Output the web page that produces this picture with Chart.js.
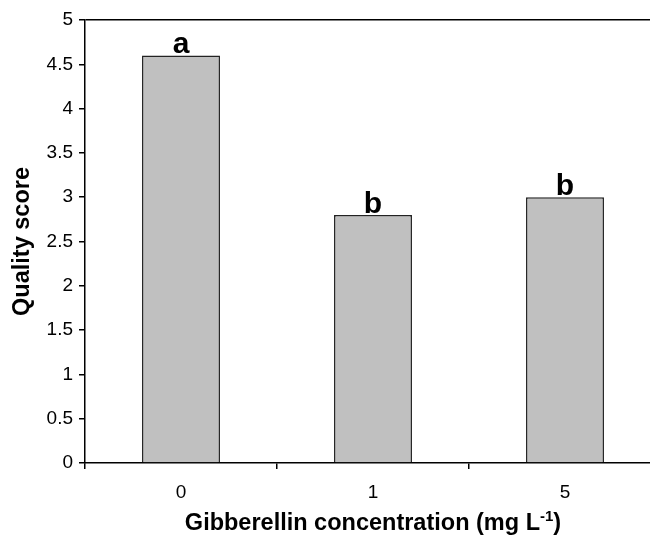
<!DOCTYPE html>
<html>
<head>
<meta charset="utf-8">
<script src="https://cdn.jsdelivr.net/npm/chart.js@4/dist/chart.umd.min.js"></script>
<style>
  html, body { margin: 0; padding: 0; background: #fff; overflow: hidden; }
  #wrap { width: 680px; height: 540px; position: relative; }
</style>
</head>
<body>
<div id="wrap"><canvas id="chart"></canvas></div>
<script>
// данные графика
const categories = ['0', '1', '5'];
const qualityScores = [4.6, 2.8, 3.0];
const groupLetters = ['a', 'b', 'b'];
const yMin = 0, yMax = 5, yStep = 0.5;
const xTitleMain = 'Gibberellin concentration (mg L';
const xTitleSup = '-1';
const xTitleEnd = ')';
const yTitle = 'Quality score';

const FONT = "'Liberation Sans', Arial, Helvetica, sans-serif";

// буквы над столбцами и подпись оси X с верхним индексом
const annotatePlugin = {
    id: 'annotate',
    afterDatasetsDraw(chart) {
        const ctx = chart.ctx;
        const meta = chart.getDatasetMeta(0);
        ctx.save();
        ctx.fillStyle = '#000';
        ctx.font = 'bold 30px ' + FONT;
        ctx.textAlign = 'center';
        ctx.textBaseline = 'alphabetic';
        meta.data.forEach((bar, i) => {
            ctx.fillText(groupLetters[i], bar.x, bar.y - 2);
        });
        ctx.restore();
    },
    afterDraw(chart) {
        const ctx = chart.ctx;
        const area = chart.chartArea;
        ctx.save();
        ctx.fillStyle = '#000';
        ctx.textBaseline = 'alphabetic';
        ctx.textAlign = 'left';
        const big = 'bold 23.5px ' + FONT;
        const small = 'bold 15px ' + FONT;
        ctx.font = big;
        const w1 = ctx.measureText(xTitleMain).width;
        const w3 = ctx.measureText(xTitleEnd).width;
        ctx.font = small;
        const w2 = ctx.measureText(xTitleSup).width;
        let x = (area.left + area.right) / 2 - (w1 + w2 + w3) / 2;
        const y = 530;
        ctx.font = big;
        ctx.fillText(xTitleMain, x, y);
        x += w1;
        ctx.font = small;
        ctx.fillText(xTitleSup, x, y - 9);
        x += w2;
        ctx.font = big;
        ctx.fillText(xTitleEnd, x, y);
        ctx.restore();
    }
};

new Chart(document.getElementById('chart'), {
    type: 'bar',
    data: {
        labels: categories,
        datasets: [{
            data: qualityScores,
            backgroundColor: '#C0C0C0',
            borderColor: '#222222',
            borderWidth: 1.5,
            barPercentage: 0.406,
            categoryPercentage: 1
        }]
    },
    options: {
        responsive: true,
        maintainAspectRatio: false,
        animation: false,
        layout: { padding: { top: 20, right: 19, bottom: 0, left: 0 } },
        plugins: {
            legend: { display: false },
            tooltip: { enabled: false }
        },
        scales: {
            x: {
                afterFit(scale) { scale.height = 77; },
                grid: {
                    offset: true,
                    drawOnChartArea: false,
                    color: '#000',
                    tickColor: '#000',
                    tickLength: 6,
                    lineWidth: 1.5
                },
                border: { color: '#000', width: 1.5 },
                ticks: {
                    color: '#000',
                    padding: 12,
                    font: { family: FONT, size: 19 }
                }
            },
            y: {
                min: yMin,
                max: yMax,
                afterFit(scale) { scale.width = 85; },
                grid: {
                    color: ctx => (ctx.tick && ctx.tick.value === yMax ? '#000' : 'rgba(0,0,0,0)'),
                    tickColor: '#000',
                    tickLength: 6,
                    lineWidth: 1.5
                },
                border: { color: '#000', width: 1.5 },
                ticks: {
                    stepSize: yStep,
                    color: '#000',
                    padding: 6,
                    font: { family: FONT, size: 19 },
                    callback: v => String(v)
                },
                title: {
                    display: true,
                    text: yTitle,
                    color: '#000',
                    padding: { top: 8, bottom: 0 },
                    font: { family: FONT, size: 23.5, weight: 'bold' }
                }
            }
        }
    },
    plugins: [annotatePlugin]
});
</script>
</body>
</html>
